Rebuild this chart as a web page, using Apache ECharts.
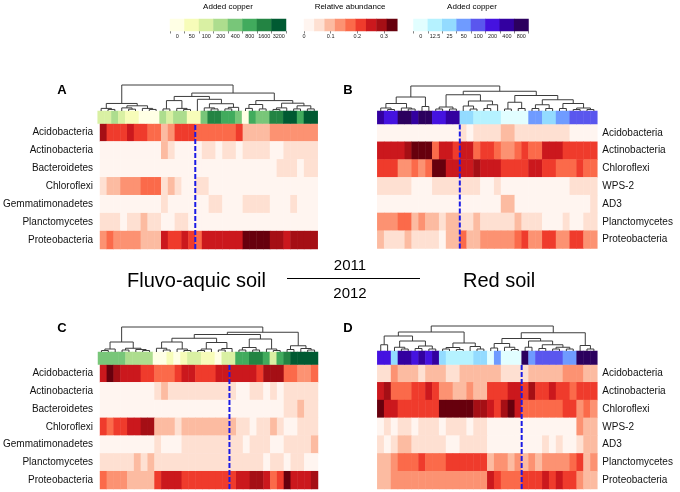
<!DOCTYPE html>
<html>
<head>
<meta charset="utf-8">
<script src="https://cdn.jsdelivr.net/npm/echarts@6/dist/echarts.min.js"></script>
<style>html,body{margin:0;padding:0;background:#fff}#chart{width:680px;height:492px}</style>
</head>
<body>
<div id="chart"></div>
<script>
// ---- data ----
var taxaFluvo = ['Acidobacteria', 'Actinobacteria', 'Bacteroidetes', 'Chloroflexi', 'Gemmatimonadetes', 'Planctomycetes', 'Proteobacteria'];
var taxaRed = ['Acidobacteria', 'Actinobacteria', 'Chloroflexi', 'WPS-2', 'AD3', 'Planctomycetes', 'Proteobacteria'];
var copperFluvo = [0, 50, 100, 200, 400, 800, 1600, 3200];
var copperRed = [0, 12.5, 25, 50, 100, 200, 400, 800];
var abundanceTicks = [0, 0.1, 0.2, 0.3];
var abundanceMax = 0.35;

// added copper of each sample (column), left to right
var doseA = [100,100,200,100,50,50,0,0,0,200,100,200,200,50,50,400,1600,1600,800,800,400,0,800,400,400,1600,1600,3200,3200,800,3200,3200];
var doseB = [400,200,200,800,800,400,800,800,200,200,400,400,25,25,12.5,12.5,12.5,12.5,0,0,0,0,50,50,25,25,50,50,100,100,100,100];
var doseC = [400,400,400,400,200,200,200,200,0,0,50,0,50,100,100,50,50,0,100,100,800,800,1600,1600,800,100,800,1600,3200,3200,3200,3200];
var doseD = [200,200,25,400,400,200,400,200,400,25,12.5,12.5,12.5,12.5,25,25,0,50,0,0,0,800,50,100,100,100,100,50,50,800,800,800];

// abundance class (0 = lowest .. 8 = highest) per taxon row and sample
var heatA = [
  [7,5,5,5,6,5,5,4,4,2,3,5,5,5,4,4,4,4,4,4,5,2,2,2,2,3,3,3,3,3,3,3],
  [0,0,0,0,0,0,0,0,0,2,1,0,0,0,0,1,1,0,1,1,0,1,1,1,1,0,0,1,1,1,1,1],
  [0,0,0,0,0,0,0,0,0,0,0,0,0,0,0,0,0,0,0,0,0,0,0,0,0,0,1,1,1,0,1,1],
  [1,2,2,3,3,3,4,4,4,1,2,1,0,0,1,1,0,0,0,0,0,0,0,0,0,0,0,0,0,0,0,0],
  [0,0,0,0,0,0,0,0,0,1,0,0,0,0,0,0,1,1,0,0,0,1,1,1,1,0,0,0,1,0,0,0],
  [1,1,1,0,1,1,2,1,1,0,0,1,1,0,0,0,0,0,0,0,0,0,0,0,0,0,0,0,0,0,0,0],
  [3,4,3,3,3,3,2,2,2,6,5,5,6,5,4,6,6,6,6,6,6,8,8,8,8,7,7,6,7,7,7,7]
];
var heatB = [
  [0,0,0,0,0,0,0,0,0,0,0,0,1,0,1,1,1,1,2,2,1,1,1,1,1,1,1,1,0,0,0,0],
  [6,6,6,6,7,8,8,8,4,6,6,5,6,6,4,5,5,4,3,3,4,5,4,4,6,6,6,5,5,5,5,5],
  [5,5,5,3,3,4,3,4,8,8,6,6,6,6,7,6,6,6,5,5,5,5,6,6,5,5,4,4,4,5,4,4],
  [1,1,1,1,1,0,0,0,1,1,1,1,1,1,1,0,0,1,0,0,0,0,0,0,0,0,0,0,1,1,1,1],
  [0,0,0,0,0,0,0,0,0,0,0,0,0,0,0,0,0,0,2,2,0,0,0,0,0,0,0,0,0,0,0,1],
  [3,3,3,4,4,2,3,2,2,1,2,2,1,1,2,1,1,1,1,1,2,1,1,1,0,0,0,1,0,0,1,1],
  [2,1,1,1,2,1,1,1,1,0,2,2,4,2,2,3,3,3,3,3,4,5,3,3,5,5,3,3,5,5,3,3]
];
var heatC = [
  [6,8,7,6,6,6,5,5,4,4,4,5,6,6,5,5,5,6,6,6,6,6,6,5,7,7,7,4,4,3,3,4],
  [0,0,0,0,0,0,0,0,1,2,1,1,1,1,1,1,1,1,1,1,0,0,1,1,0,1,0,1,1,1,1,1],
  [0,0,0,0,0,0,0,0,0,0,0,0,0,0,0,0,0,0,0,0,0,0,0,0,0,0,0,1,1,2,1,1],
  [5,4,5,5,6,6,7,7,2,2,2,1,2,2,2,2,2,2,2,2,1,1,0,1,1,2,1,0,0,1,1,1],
  [0,0,0,0,0,0,0,0,1,0,0,0,1,1,1,1,1,1,1,1,1,0,1,1,1,0,0,1,1,1,1,2],
  [1,1,1,1,1,2,1,2,1,1,1,1,1,1,1,1,1,1,1,1,1,1,1,1,0,1,1,0,1,1,0,0],
  [4,3,3,3,2,2,2,2,5,6,6,6,5,5,5,5,5,5,5,5,6,6,7,7,6,4,5,8,6,6,6,7]
];
var heatD = [
  [1,1,3,2,2,2,1,2,2,2,1,1,2,2,2,2,2,2,1,1,1,1,2,2,2,2,2,3,3,3,2,2],
  [6,7,4,4,4,5,5,6,5,3,3,2,2,3,2,2,5,5,5,6,6,5,7,5,5,6,5,5,4,5,5,5],
  [8,6,6,5,5,5,5,5,5,8,8,8,8,8,7,7,6,5,7,8,6,4,4,4,4,4,4,5,5,3,4,3],
  [0,1,0,1,1,0,1,1,1,0,1,1,1,0,1,1,0,0,0,0,0,0,0,0,0,0,0,0,0,3,2,2],
  [1,0,1,2,2,1,1,1,1,1,0,0,1,1,1,1,0,0,0,0,0,0,0,0,1,0,1,0,0,1,2,2],
  [2,2,3,4,4,4,5,4,4,4,5,5,5,5,5,5,2,3,3,2,3,2,3,2,3,3,3,3,4,5,2,3],
  [2,2,3,3,3,3,3,3,3,3,3,3,3,3,3,3,6,5,4,4,4,5,5,5,6,5,6,5,5,3,2,2]
];
// column after which the dashed separator runs
var splitA = 14, splitB = 12, splitC = 19, splitD = 21;

// sample clustering: [height, left, right], leaves are column indices
var treeA = [100,
  [29, [10, 0, [6, 1, 2]], [20, [12, 3, [7, 4, 5]], [10, 6, [6, 7, 8]]]],
  [69,
    [56, [40, [8, 9, 10], [10, 11, [6, 12, 13]]], [45, 14, [28, [12, 15, [8, 16, 17]], [14, [8, 18, 19], 20]]]],
    [40, [25, [10, 21, 22], [8, 23, 24]], [30, [12, [6, 25, 26], 27], [20, [8, 28, 29], [8, 30, 31]]]]]];
var treeB = [100,
  [56, [30, [12, 0, [6, 1, 2]], [12, 3, [8, 4, 5]]], [18, 6, 7]],
  [79,
    [65, [16, [8, 8, 9], [8, 10, 11]], [40, [20, 12, [8, 13, 14]], [25, [10, 15, 16], 17]]],
    [62, [35, [8, 18, 19], [10, 20, 21]], [45, [25, [10, 22, 23], [10, 24, 25]], [30, [10, 26, 27], [12, [6, 28, 29], [6, 30, 31]]]]]]];
var treeC = [100,
  [40, [12, [6, 0, 1], 2], [15, [8, 3, 4], [10, 5, [6, 6, 7]]]],
  [79,
    [70, [55, [40, [15, 8, [8, 9, 10]], [12, 11, [6, 12, 13]]], [38, [12, [6, 14, 15], 16], [14, [8, 17, 18], 19]]],
      [52, [18, [8, 20, 21], [8, 22, 23]], [12, 24, [6, 25, 26]]]],
    [25, [10, 27, 28], [14, 29, [8, 30, 31]]]]];
var treeD = [100,
  [76, [60, [25, 0, 1], [40, [15, 2, [8, 3, 4]], [20, [10, 5, 6], [8, 7, 8]]]], [32, [14, [8, 9, 10], [6, 11, 12]], [18, 13, [8, 14, 15]]]],
  [73, [50, [30, [12, 16, 17], [15, 18, [6, 19, 20]]], [40, [15, 21, 22], [25, [10, 23, 24], [15, [8, 25, 26], [8, 27, 28]]]]], [22, 29, [8, 30, 31]]]];

// ---- colours ----
var reds = ['#fff5f0', '#fee0d2', '#fcbba1', '#fc9272', '#fb6a4a', '#ef3b2c', '#cb181d', '#a50f15', '#67000d'];
var greens = ['#ffffe5', '#f7fcb9', '#d9f0a3', '#addd8e', '#78c679', '#41ab5d', '#238443', '#005a32'];
var blues = ['#e2feff', '#b5f2ff', '#93dbff', '#6f9bff', '#5a56ee', '#4512e0', '#3300a0', '#2c005e'];
var FONT = '"Liberation Sans", Arial, sans-serif';
var bin = abundanceMax / reds.length;

var chart = echarts.init(document.getElementById('chart'));
var grid = [], xAxis = [], yAxis = [], series = [];
var redSeries = [], greenSeries = [], blueSeries = [];
var cols = doseA.map(function (d, i) { return 's' + i; });

function add(list, o) { list.push(o); return list.length - 1; }

function treeLinks(tree) {
  var links = [];
  function walk(n) {
    if (typeof n === 'number') return [n + 0.5, 0];
    var l = walk(n[1]), r = walk(n[2]);
    links.push([l[0], l[1], r[0], r[1], n[0]]);
    return [(l[0] + r[0]) / 2, n[0]];
  }
  walk(tree);
  return links;
}

function panel(p) {
  // heat map
  var g = add(grid, p.heat);
  var xc = add(xAxis, {type: 'category', gridIndex: g, data: cols, show: false});
  var yc = add(yAxis, {type: 'category', gridIndex: g, data: p.taxa, inverse: true, position: p.side,
    axisLine: {show: false}, axisTick: {show: false},
    axisLabel: {fontSize: 10, color: '#111', fontFamily: FONT, margin: p.side === 'left' ? 7 : 5}});
  var xv = add(xAxis, {type: 'value', gridIndex: g, min: 0, max: cols.length, show: false});
  var yv = add(yAxis, {type: 'value', gridIndex: g, min: 0, max: p.taxa.length, show: false});
  var cells = [];
  p.values.forEach(function (row, r) {
    row.forEach(function (v, c) { cells.push([c, r, (v + 0.5) * bin]); });
  });
  redSeries.push(add(series, {type: 'heatmap', xAxisIndex: xc, yAxisIndex: yc, data: cells, silent: true}));
  add(series, {type: 'line', xAxisIndex: xv, yAxisIndex: yv, data: [[p.split, 0], [p.split, p.taxa.length]],
    symbol: 'none', silent: true, z: 5, lineStyle: {color: '#1a1ae6', width: 2, type: [5, 2]}});

  // colour bar of added copper
  var gb = add(grid, p.bar);
  var xb = add(xAxis, {type: 'category', gridIndex: gb, data: cols, show: false});
  var yb = add(yAxis, {type: 'category', gridIndex: gb, data: ['dose'], show: false});
  var si = add(series, {type: 'heatmap', xAxisIndex: xb, yAxisIndex: yb, silent: true,
    data: p.dose.map(function (d, i) { return [i, 0, d]; })});
  (p.soil === 'fluvo' ? greenSeries : blueSeries).push(si);

  // dendrogram
  var gd = add(grid, p.tree);
  var xd = add(xAxis, {type: 'value', gridIndex: gd, min: 0, max: cols.length, show: false});
  var yd = add(yAxis, {type: 'value', gridIndex: gd, min: 0, max: 100, show: false});
  add(series, {type: 'custom', xAxisIndex: xd, yAxisIndex: yd, silent: true, data: treeLinks(p.links),
    encode: {x: [0, 2], y: [1, 3, 4]},
    renderItem: function (params, api) {
      var a = api.coord([api.value(0), api.value(1)]);
      var b = api.coord([api.value(0), api.value(4)]);
      var c = api.coord([api.value(2), api.value(4)]);
      var d = api.coord([api.value(2), api.value(3)]);
      return {type: 'polyline', shape: {points: [a, b, c, d]}, style: {stroke: '#3c3c3c', lineWidth: 1, fill: null}};
    }});
}

panel({taxa: taxaFluvo, side: 'left', values: heatA, dose: doseA, links: treeA, split: splitA, soil: 'fluvo',
  heat: {left: 97.7, top: 123.5, width: 220, height: 125.5}, bar: {left: 97.7, top: 111, width: 220, height: 12.5},
  tree: {left: 97.7, top: 85, width: 220, height: 26}});
panel({taxa: taxaRed, side: 'right', values: heatB, dose: doseB, links: treeB, split: splitB, soil: 'red',
  heat: {left: 377.3, top: 124, width: 220, height: 124.5}, bar: {left: 377.3, top: 111, width: 220, height: 13},
  tree: {left: 377.3, top: 86, width: 220, height: 25}});
panel({taxa: taxaFluvo, side: 'left', values: heatC, dose: doseC, links: treeC, split: splitC, soil: 'fluvo',
  heat: {left: 98, top: 364.5, width: 220, height: 124.5}, bar: {left: 98, top: 352, width: 220, height: 12.5},
  tree: {left: 98, top: 327, width: 220, height: 25}});
panel({taxa: taxaRed, side: 'right', values: heatD, dose: doseD, links: treeD, split: splitD, soil: 'red',
  heat: {left: 377.3, top: 364.5, width: 220, height: 124.5}, bar: {left: 377.3, top: 351, width: 220, height: 13.5},
  tree: {left: 377.3, top: 326, width: 220, height: 25}});

// ---- colour keys ----
var tickStyle = {show: true, length: 2.5, lineStyle: {color: '#333', width: 0.6}};
var keyLabel = {fontSize: 5.5, color: '#222', fontFamily: FONT, margin: 2.5};

function copperKey(box, doses, list) {
  var g = add(grid, box);
  var x = add(xAxis, {type: 'category', gridIndex: g, data: doses.map(String), axisLine: {show: false},
    axisTick: tickStyle, axisLabel: Object.assign({interval: 0}, keyLabel)});
  var y = add(yAxis, {type: 'category', gridIndex: g, data: ['k'], show: false});
  list.push(add(series, {type: 'heatmap', xAxisIndex: x, yAxisIndex: y, silent: true,
    data: doses.map(function (d, i) { return [i, 0, d]; })}));
}
copperKey({left: 170, top: 19, width: 116, height: 12}, copperFluvo, greenSeries);
copperKey({left: 413.5, top: 19, width: 115, height: 12}, copperRed, blueSeries);

(function () {
  var g = add(grid, {left: 304, top: 19, width: 93.3, height: 12});
  var classes = reds.map(function (c, k) { return 'c' + k; });
  var xc = add(xAxis, {type: 'category', gridIndex: g, data: classes, show: false});
  add(xAxis, {type: 'value', gridIndex: g, min: 0, max: abundanceMax, interval: 0.1, position: 'bottom',
    axisLine: {show: false}, splitLine: {show: false},
    axisTick: Object.assign({customValues: abundanceTicks}, tickStyle),
    axisLabel: Object.assign({customValues: abundanceTicks}, keyLabel)});
  var y = add(yAxis, {type: 'category', gridIndex: g, data: ['k'], show: false});
  redSeries.push(add(series, {type: 'heatmap', xAxisIndex: xc, yAxisIndex: y, silent: true,
    data: classes.map(function (c, k) { return [k, 0, (k + 0.5) * bin]; })}));
})();

function text(x, y, str, size, extra) {
  return {type: 'text', x: x, y: y, silent: true,
    style: Object.assign({text: str, fill: '#000', font: size + 'px ' + FONT, textAlign: 'center', textVerticalAlign: 'middle'}, extra || {})};
}

chart.setOption({
  animation: false,
  backgroundColor: '#fff',
  grid: grid,
  xAxis: xAxis,
  yAxis: yAxis,
  visualMap: [
    {type: 'piecewise', show: false, seriesIndex: redSeries,
      pieces: reds.map(function (c, k) { return {gte: k * bin, lt: (k + 1) * bin, color: c}; })},
    {type: 'piecewise', show: false, seriesIndex: greenSeries,
      pieces: copperFluvo.map(function (d, k) { return {value: d, color: greens[k]}; })},
    {type: 'piecewise', show: false, seriesIndex: blueSeries,
      pieces: copperRed.map(function (d, k) { return {value: d, color: blues[k]}; })}
  ],
  series: series,
  graphic: [
    text(228, 7, 'Added copper', 8),
    text(350, 7, 'Relative abundance', 8),
    text(472, 7, 'Added copper', 8),
    text(62, 90, 'A', 13, {font: 'bold 13px ' + FONT}),
    text(348, 90, 'B', 13, {font: 'bold 13px ' + FONT}),
    text(62, 328, 'C', 13, {font: 'bold 13px ' + FONT}),
    text(348, 328, 'D', 13, {font: 'bold 13px ' + FONT}),
    text(127, 281, 'Fluvo-aquic soil', 20, {textAlign: 'left'}),
    text(463, 281, 'Red soil', 20, {textAlign: 'left'}),
    text(350, 266, '2011', 15),
    text(350, 294, '2012', 15),
    {type: 'line', silent: true, shape: {x1: 287, y1: 278.5, x2: 420, y2: 278.5}, style: {stroke: '#000', lineWidth: 1.2}}
  ]
});

window.addEventListener('resize', function () { chart.resize(); });
</script>
</body>
</html>
